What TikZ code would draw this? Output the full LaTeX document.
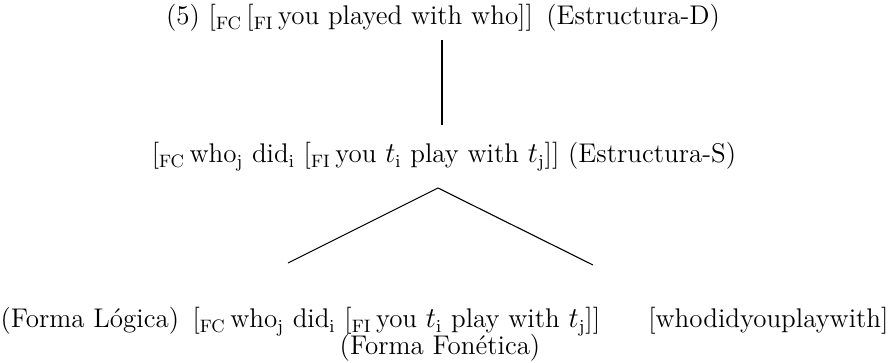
\documentclass[tikz,border=0pt]{standalone}
\begin{document}
\begin{tikzpicture}[x=0.5pt,y=-0.5pt,line width=0.55pt,
  every node/.style={font=\fontsize{13.5}{16}\selectfont,inner sep=0pt}]
\useasboundingbox (0,0) rectangle (891,363);
\node [anchor=base] (ds) at (443,25) {(5) [$_{\mathrm{FC}}$\,[$_{\mathrm{FI}}$\,you played with who]]\enspace(Estructura-D)};
\node [anchor=base] (ss) at (444,163) {[$_{\mathrm{FC}}$\,who$_{\mathrm{j}}$ did$_{\mathrm{i}}$ [$_{\mathrm{FI}}$\,you $t_{\mathrm{i}}$ play with $t_{\mathrm{j}}$]] (Estructura-S)};
\node [anchor=base west] (lfname) at (0,328) {(Forma L\'ogica)};
\node [anchor=base west] (lf) at (192,328) {[$_{\mathrm{FC}}$\,who$_{\mathrm{j}}$ did$_{\mathrm{i}}$ [$_{\mathrm{FI}}$\,you $t_{\mathrm{i}}$ play with $t_{\mathrm{j}}$]]};
\node [anchor=base east] (pf) at (889,328) {[whodidyouplaywith]};
\node [anchor=base] (pfname) at (440,355) {(Forma Fon\'etica)};
% ramas
\coordinate (dsfoot) at (442,40);
\coordinate (ssroot) at (442,125);
\coordinate (apex) at (438,188);
\coordinate (lfend) at (288,263);
\coordinate (pfend) at (593,265);
\draw (dsfoot) -- (ssroot);
\draw (lfend) -- (apex) -- (pfend);
\end{tikzpicture}
\end{document}
